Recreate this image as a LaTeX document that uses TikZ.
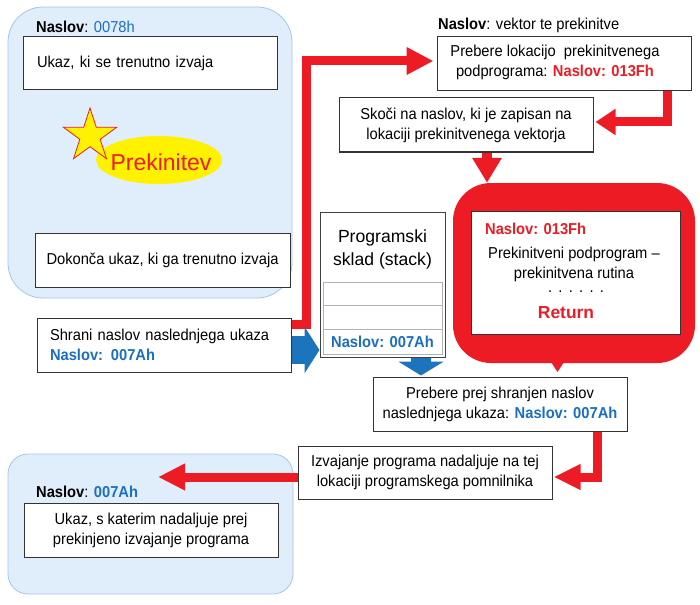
\documentclass[tikz,border=0pt]{standalone}
\usepackage{fontspec}
\setmainfont{Liberation Sans}
\newfontfamily\bodyfont{Liberation Sans}[FakeStretch=0.93]
\usetikzlibrary{arrows.meta,calc,shapes.geometric}
\definecolor{myred}{HTML}{ED1C24}
\definecolor{myblue}{HTML}{1C75BC}
\definecolor{txtblue}{HTML}{1B6FC0}
\definecolor{lbfill}{HTML}{DFEEFA}
\definecolor{lbdraw}{HTML}{A3C5EA}
\definecolor{staryel}{HTML}{FFF200}
\begin{document}
\begin{tikzpicture}[x=1pt,y=-1pt,
  every node/.style={font=\bodyfont\fontsize{15.8}{20}\selectfont, inner sep=0pt, align=center},
  box/.style={draw=black!80, line width=1pt, fill=white, minimum width=254pt, minimum height=54pt},
  lbbox/.style={draw=lbdraw, fill=lbfill, line width=0.8pt},
  lbl/.style={anchor=west},
  cell/.style={draw=gray!60, line width=0.8pt, minimum width=119pt},
  redarrow/.style={draw=myred, line width=9pt, line join=miter},
  bluearrow/.style={draw=myblue},
]
\useasboundingbox (0,0) rectangle (700,604);

% containers
\node[lbbox, rounded corners=35pt, minimum width=284pt, minimum height=291pt] (cont1) at (150,152.5) {};
\node[lbbox, rounded corners=20pt, minimum width=285pt, minimum height=140pt] (cont2) at (150.5,524) {};

% top-left content
\node[lbl] (l1) at (36,27) {{\bfseries Naslov}: \textcolor{txtblue}{0078h}};
\node[box, text width=226pt, align=left, minimum height=53pt] (ukaz) at (150,63.5) {Ukaz, ki se trenutno izvaja};
\node[ellipse, fill=staryel, minimum width=126pt, minimum height=48pt] (ell) at (159,160) {};
\filldraw[fill=staryel, draw=myred, line width=0.8pt] (90,108) -- (96.3,127.3) -- (116.6,127.3) -- (100.2,139.3) -- (106.5,158.7) -- (90,146.7) -- (73.5,158.7) -- (79.8,139.3) -- (63.4,127.3) -- (83.7,127.3) -- cycle;
\node[text=myred, font=\fontsize{23}{25}\selectfont] (prek) at (161,162) {Prekinitev};
\node[box, minimum width=255pt] (dokonca) at (162.5,260) {Dokonča ukaz, ki ga trenutno izvaja};
\node[box, text width=229pt, align=left] (shrani) at (164.5,345) {Shrani naslov naslednjega ukaza\\\textcolor{txtblue}{\bfseries Naslov: 007Ah}};

% top-right
\node[lbl] (l2) at (438,25) {{\bfseries Naslov}: vektor te prekinitve};
\node[box] (lok) at (564,64) {};
\node (loktxt) at (555,62) {Prebere lokacijo\ \ prekinitvenega\\podprograma: \textcolor{myred}{\bfseries Naslov: 013Fh}};
\node[box] (skoci) at (466,125) {Skoči na naslov, ki je zapisan na\\lokaciji prekinitvenega vektorja};

% stack
\node[draw=black!75, line width=1pt, fill=white, minimum width=125pt, minimum height=145pt] (stack) at (382.5,284.5) {};
\node[font=\fontsize{17.6}{23}\selectfont] (stacktxt) at (382.5,249) {Programski\\sklad (stack)};
\node[cell, minimum height=23pt] (c1) at (382.5,293.5) {};
\node[cell, minimum height=24pt] (c2) at (382.5,317) {};
\node[cell, minimum height=25pt] (c3) at (382.5,341.5) {\textcolor{txtblue}{\bfseries Naslov: 007Ah}};

% routine
\node[fill=myred, rounded corners=38pt, minimum width=242pt, minimum height=180pt] (rutina) at (574,273) {};
\fill[myred] (551,362) -- (564,362) -- (557.5,372) -- cycle;
\node[draw=black!80, fill=white, line width=1pt, minimum width=209pt, minimum height=123pt] (inner) at (575.5,272.5) {};
\node[lbl] (l3) at (485,229) {\textcolor{myred}{\bfseries Naslov: 013Fh}};
\node (rtxt) at (574,264) {Prekinitveni podprogram –\\prekinitvena rutina};
\node (dots) at (576,292) {.\hspace{6.3pt}.\hspace{6.3pt}.\hspace{6.3pt}.\hspace{6.3pt}.\hspace{6.3pt}.};
\node[font=\fontsize{17.4}{20}\selectfont\bfseries, text=myred] (ret) at (566,313) {Return};

% lower
\node[box] (prej) at (500,404) {Prebere prej shranjen naslov\\naslednjega ukaza: \textcolor{txtblue}{\bfseries Naslov: 007Ah}};
\node[box, minimum height=53pt] (izv) at (425,472.5) {Izvajanje programa nadaljuje na tej\\lokaciji programskega pomnilnika};
\node[lbl] (l4) at (36,492) {{\bfseries Naslov}: \textcolor{txtblue}{\bfseries 007Ah}};
\node[box] (ukaz2) at (151,530) {Ukaz, s katerim nadaljuje prej\\prekinjeno izvajanje programa};

% red connectors
\draw[redarrow, shorten >=3pt, -{Triangle[width=26pt,length=27pt]}] (shrani.east |- 0,324) -- (306,324) -- (306,61) -- (lok.west |- 0,61);
\draw[redarrow, shorten >=2pt, -{Triangle[width=25pt,length=20pt]}] (lok.south -| 667,0) -- (667,122) -- (skoci.east |- 0,122);
\draw[redarrow, line width=10pt, -{Triangle[width=28pt,length=25pt]}] (skoci.south -| 487,0) -- (rutina.north -| 487,0);
\draw[redarrow, shorten >=1pt, -{Triangle[width=24pt,length=27pt]}] (prej.south -| 597,0) -- (597,477) -- (izv.east |- 0,477);
\coordinate (tip5) at (158,477);
\draw[redarrow, -{Triangle[width=25pt,length=27pt]}] (izv.west |- 0,477) -- (tip5);

% blue connectors
\draw[bluearrow, line width=28pt, -{Triangle[width=46pt,length=15pt]}] (shrani.east |- 0,350) -- (stack.west |- 0,350);
\draw[bluearrow, line width=20pt, shorten >=1pt, -{Triangle[width=45pt,length=14pt]}] (stack.south -| 421,0) -- (prej.north -| 421,0);
\end{tikzpicture}
\end{document}
